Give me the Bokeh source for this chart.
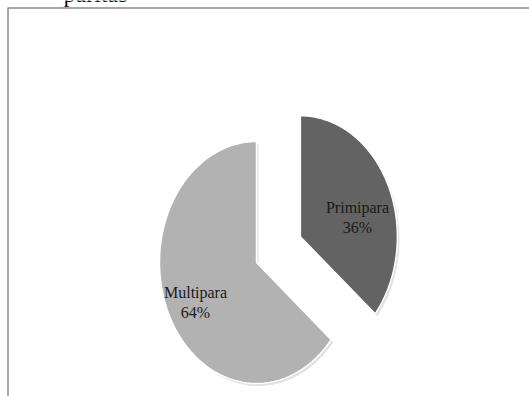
import numpy as np
from bokeh.plotting import figure
from bokeh.models import Range1d
from bokeh.core.properties import value
from bokeh.embed import file_html
from bokeh.resources import INLINE

categories = ["Primipara", "Multipara"]
shares = [36, 64]
pct_labels = ["36%", "64%"]
colors = ["#636363", "#b2b2b2"]
explode = [0.5, 0.0]
title_text = "paritas"

W, H = 529, 396
p = figure(width=W, height=H, output_backend="svg", toolbar_location=None,
           x_range=Range1d(0, W), y_range=Range1d(H, 0), min_border=0)
p.axis.visible = False
p.grid.visible = False
p.outline_line_color = None
p.background_fill_color = "white"
p.border_fill_color = "white"

# frame lines of the chart area
p.line(x=[7.5, 7.5, W], y=[H, 7.5, 7.5], line_color="#8a8a8a", line_width=1.5)

# cut-off title (only its lower part shows, as in the reference)
p.text(x=[63], y=[-6.5], text=[title_text], text_font=value("Liberation Serif"),
       text_font_size="24px", text_color="#111111", text_baseline="alphabetic")

cx, cy, rx, ry = 256.0, 262.0, 97.0, 121.0
total = float(sum(shares))
start = 0.0
label_pos = [(357.0, 207.0), (195.0, 292.0)]
for i, (cat, s) in enumerate(zip(categories, shares)):
    a0 = start / total * 2 * np.pi
    a1 = (start + s) / total * 2 * np.pi
    start += s
    mid = (a0 + a1) / 2
    ox = explode[i] * rx * np.sin(mid)
    oy = -explode[i] * ry * np.cos(mid)
    t = np.linspace(a0, a1, 120)
    xs = np.concatenate([[cx + ox], cx + ox + rx * np.sin(t), [cx + ox]])
    ys = np.concatenate([[cy + oy], cy + oy - ry * np.cos(t), [cy + oy]])
    # soft shadow
    p.patch(xs + 2, ys + 2.5, fill_color="#9a9a9a", fill_alpha=0.3, line_color=None)
    p.patch(xs, ys, fill_color=colors[i], line_color="white", line_width=1.5)
    lx, ly = label_pos[i]
    p.text(x=[lx, lx], y=[ly, ly + 20], text=[cat, pct_labels[i]],
           text_font=value("Liberation Serif"), text_font_size="16px",
           text_color="#1a1a1a", text_align="center", text_baseline="middle")

open("out.html", "w").write(file_html(p, INLINE))
